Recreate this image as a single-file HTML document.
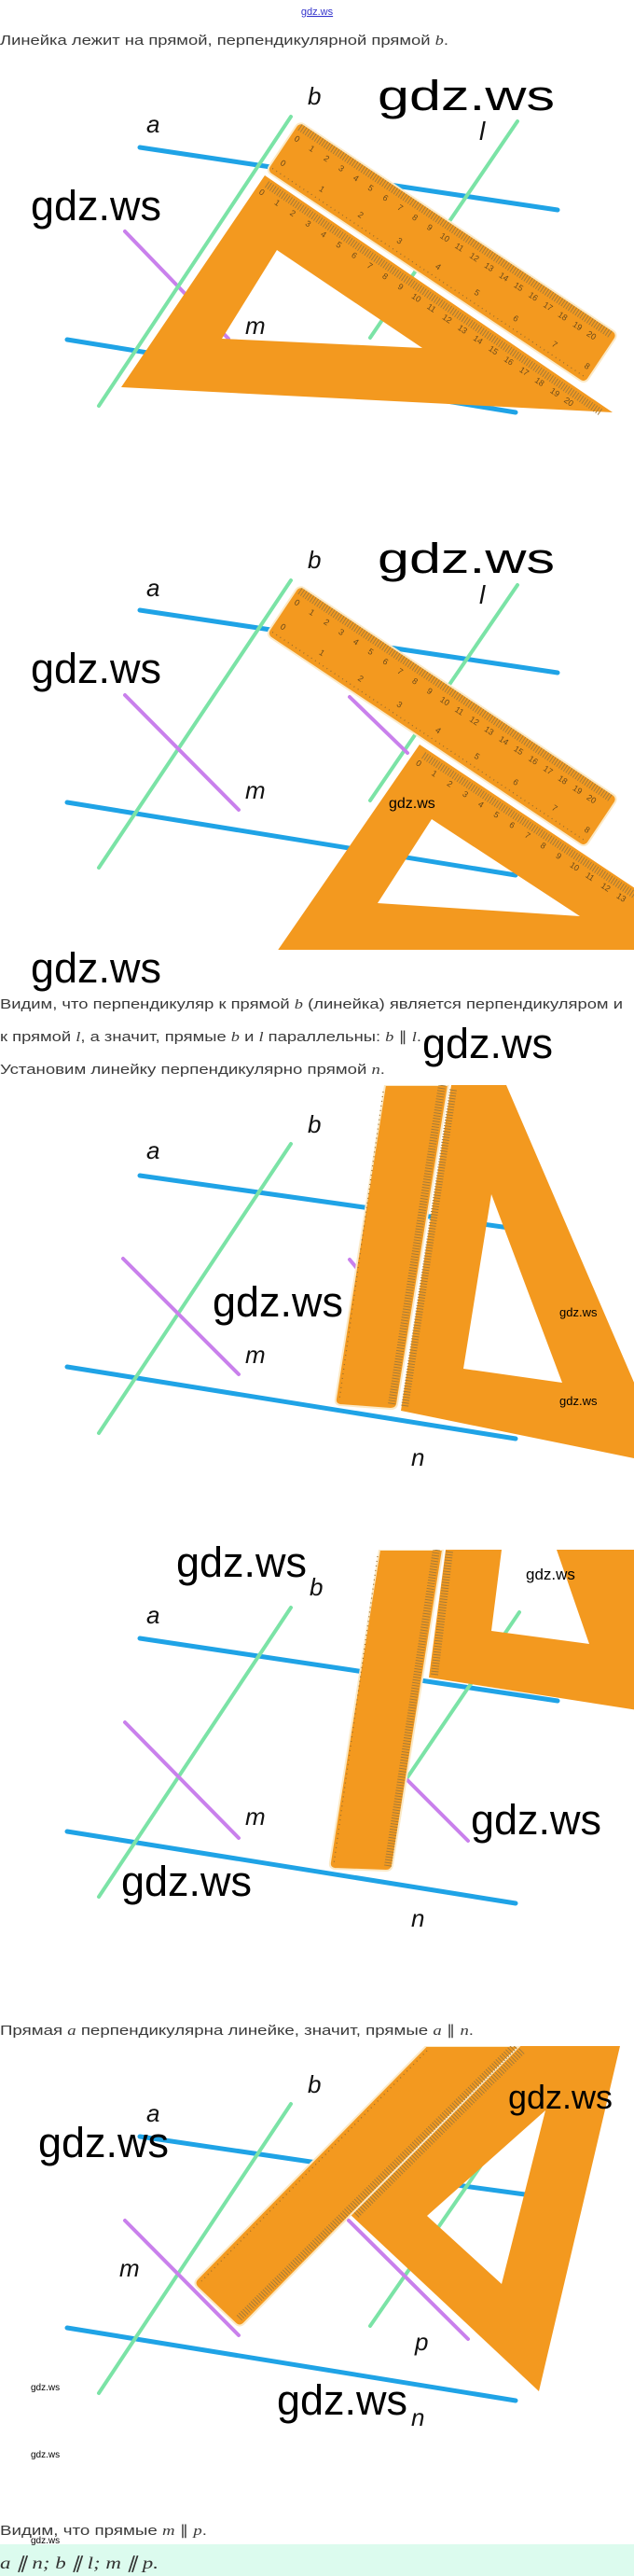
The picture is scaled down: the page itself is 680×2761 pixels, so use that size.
<!DOCTYPE html>
<html><head><meta charset="utf-8">
<style>
html,body{margin:0;padding:0;background:#fff;}
svg{display:block;}
.t{font-family:"Liberation Sans",sans-serif;font-size:15px;fill:#3a3a3a;}
.m{font-family:"Liberation Serif",serif;font-style:italic;}
.w{font-family:"Liberation Sans",sans-serif;fill:#000;}
.lb{font-family:"Liberation Sans",sans-serif;font-style:italic;font-size:26px;fill:#111;}
.ln{fill:none;stroke-linecap:round;}
.bl{stroke:#1fa3e6;stroke-width:5;}
.gr{stroke:#7be3a6;stroke-width:4;}
.pu{stroke:#c980ec;stroke-width:4;}
.or{fill:#f3991f;}
.tk{stroke:#a57b38;stroke-width:8;stroke-dasharray:1 2;fill:none;}
.tk2{stroke:#9a6e2c;stroke-width:1.3;fill:none;stroke-dasharray:1 4;}
.nm{font-family:"Liberation Sans",sans-serif;font-size:9px;fill:#6b4a1a;}
</style></head><body>
<svg width="680" height="2761" viewBox="0 0 680 2761" xmlns="http://www.w3.org/2000/svg">
<defs>
<clipPath id="c1"><rect x="0" y="80" width="680" height="410"/></clipPath>
<clipPath id="c2"><rect x="0" y="560" width="680" height="458"/></clipPath>
<clipPath id="c3"><rect x="0" y="1163" width="680" height="410"/></clipPath>
<clipPath id="c4"><rect x="0" y="1661" width="680" height="410"/></clipPath>
<clipPath id="c5"><rect x="0" y="2193" width="680" height="420"/></clipPath>
</defs>

<text x="340" y="16" text-anchor="middle" font-family="Liberation Sans,sans-serif" font-size="11" fill="#3333cc" text-decoration="underline">gdz.ws</text>
<text class="t" x="0" y="48" textLength="481" lengthAdjust="spacingAndGlyphs">Линейка лежит на прямой, перпендикулярной прямой <tspan class="m">b</tspan>.</text>

<!-- FIG 1 -->
<g clip-path="url(#c1)">
<line class="ln bl" x1="150" y1="158" x2="598" y2="225"/>
<line class="ln bl" x1="72" y1="364" x2="553" y2="442"/>
<line class="ln gr" x1="555" y1="130" x2="397" y2="362"/>
<line class="ln pu" x1="134" y1="248" x2="245" y2="363"/>
<path class="or" fill-rule="evenodd" d="M284,188 L657,442 L130,415 Z M297,268 L238,363 L453,373 Z"/>
<g transform="translate(284,190) rotate(34.3)">
<line class="tk" x1="6" y1="5" x2="440" y2="5"/>
<text class="nm" x="4" y="18">0</text><text class="nm" x="24" y="18">1</text><text class="nm" x="44" y="18">2</text><text class="nm" x="64" y="18">3</text><text class="nm" x="84" y="18">4</text><text class="nm" x="104" y="18">5</text><text class="nm" x="124" y="18">6</text><text class="nm" x="144" y="18">7</text><text class="nm" x="164" y="18">8</text><text class="nm" x="184" y="18">9</text><text class="nm" x="202" y="18">10</text><text class="nm" x="222" y="18">11</text><text class="nm" x="242" y="18">12</text><text class="nm" x="262" y="18">13</text><text class="nm" x="282" y="18">14</text><text class="nm" x="302" y="18">15</text><text class="nm" x="322" y="18">16</text><text class="nm" x="342" y="18">17</text><text class="nm" x="362" y="18">18</text><text class="nm" x="382" y="18">19</text><text class="nm" x="400" y="18">20</text>
</g>
<g transform="translate(321,130) rotate(33.7)">
<rect x="0" y="0" width="411" height="64" rx="6" class="or" stroke="#fbe9c6" stroke-width="2"/>
<line class="tk" x1="4" y1="5" x2="405" y2="5"/>
<line class="tk2" x1="4" y1="58" x2="405" y2="58"/>
<text class="nm" x="6" y="20">0</text><text class="nm" x="25" y="20">1</text><text class="nm" x="44" y="20">2</text><text class="nm" x="63" y="20">3</text><text class="nm" x="82" y="20">4</text><text class="nm" x="101" y="20">5</text><text class="nm" x="120" y="20">6</text><text class="nm" x="139" y="20">7</text><text class="nm" x="158" y="20">8</text><text class="nm" x="177" y="20">9</text><text class="nm" x="194" y="20">10</text><text class="nm" x="213" y="20">11</text><text class="nm" x="232" y="20">12</text><text class="nm" x="251" y="20">13</text><text class="nm" x="270" y="20">14</text><text class="nm" x="289" y="20">15</text><text class="nm" x="308" y="20">16</text><text class="nm" x="327" y="20">17</text><text class="nm" x="346" y="20">18</text><text class="nm" x="365" y="20">19</text><text class="nm" x="383" y="20">20</text>
<text class="nm" x="8" y="50">0</text><text class="nm" x="58" y="50">1</text><text class="nm" x="108" y="50">2</text><text class="nm" x="158" y="50">3</text><text class="nm" x="208" y="50">4</text><text class="nm" x="258" y="50">5</text><text class="nm" x="308" y="50">6</text><text class="nm" x="358" y="50">7</text><text class="nm" x="400" y="50">8</text>
</g>
<line class="ln gr" x1="312" y1="125" x2="106" y2="435"/>
</g>
<text class="lb" x="330" y="112">b</text>
<text class="lb" x="157" y="142">a</text>
<text class="lb" x="514" y="150" style="font-size:28px">l</text>
<text class="lb" x="263" y="358">m</text>
<text class="w" x="405" y="118" font-size="45" textLength="190" lengthAdjust="spacingAndGlyphs">gdz.ws</text>
<text class="w" x="33" y="236" font-size="45">gdz.ws</text>

<!-- FIG 2 -->
<g clip-path="url(#c2)">
<line class="ln bl" x1="150" y1="654" x2="598" y2="721"/>
<line class="ln bl" x1="72" y1="860" x2="553" y2="938"/>
<line class="ln gr" x1="312" y1="622" x2="106" y2="930"/>
<line class="ln gr" x1="555" y1="627" x2="397" y2="858"/>
<line class="ln pu" x1="134" y1="745" x2="256" y2="868"/>
<line class="ln pu" x1="375" y1="747" x2="437" y2="807"/>
<path class="or" fill-rule="evenodd" d="M450,798 L690,958 L690,1030 L290,1030 Z M463,878 L405,968 L622,982 Z"/>
<g transform="translate(452,802) rotate(33.5)">
<line class="tk" x1="6" y1="5" x2="300" y2="5"/>
<text class="nm" x="4" y="18">0</text><text class="nm" x="24" y="18">1</text><text class="nm" x="44" y="18">2</text><text class="nm" x="64" y="18">3</text><text class="nm" x="84" y="18">4</text><text class="nm" x="104" y="18">5</text><text class="nm" x="124" y="18">6</text><text class="nm" x="144" y="18">7</text><text class="nm" x="164" y="18">8</text><text class="nm" x="184" y="18">9</text><text class="nm" x="202" y="18">10</text><text class="nm" x="222" y="18">11</text><text class="nm" x="242" y="18">12</text><text class="nm" x="262" y="18">13</text>
</g>
<g transform="translate(321,627) rotate(33.7)">
<rect x="0" y="0" width="411" height="64" rx="6" class="or" stroke="#fbe9c6" stroke-width="2"/>
<line class="tk" x1="4" y1="5" x2="405" y2="5"/>
<line class="tk2" x1="4" y1="58" x2="405" y2="58"/>
<text class="nm" x="6" y="20">0</text><text class="nm" x="25" y="20">1</text><text class="nm" x="44" y="20">2</text><text class="nm" x="63" y="20">3</text><text class="nm" x="82" y="20">4</text><text class="nm" x="101" y="20">5</text><text class="nm" x="120" y="20">6</text><text class="nm" x="139" y="20">7</text><text class="nm" x="158" y="20">8</text><text class="nm" x="177" y="20">9</text><text class="nm" x="194" y="20">10</text><text class="nm" x="213" y="20">11</text><text class="nm" x="232" y="20">12</text><text class="nm" x="251" y="20">13</text><text class="nm" x="270" y="20">14</text><text class="nm" x="289" y="20">15</text><text class="nm" x="308" y="20">16</text><text class="nm" x="327" y="20">17</text><text class="nm" x="346" y="20">18</text><text class="nm" x="365" y="20">19</text><text class="nm" x="383" y="20">20</text>
<text class="nm" x="8" y="50">0</text><text class="nm" x="58" y="50">1</text><text class="nm" x="108" y="50">2</text><text class="nm" x="158" y="50">3</text><text class="nm" x="208" y="50">4</text><text class="nm" x="258" y="50">5</text><text class="nm" x="308" y="50">6</text><text class="nm" x="358" y="50">7</text><text class="nm" x="400" y="50">8</text>
</g>
</g>
<text class="lb" x="330" y="609">b</text>
<text class="lb" x="157" y="639">a</text>
<text class="lb" x="514" y="647" style="font-size:28px">l</text>
<text class="lb" x="263" y="856">m</text>
<text class="w" x="405" y="614" font-size="45" textLength="190" lengthAdjust="spacingAndGlyphs">gdz.ws</text>
<text class="w" x="33" y="732" font-size="45">gdz.ws</text>
<text class="w" x="417" y="866" font-size="16">gdz.ws</text>

<text class="w" x="33" y="1053" font-size="45">gdz.ws</text>
<text class="t" x="0" y="1081" textLength="668" lengthAdjust="spacingAndGlyphs">Видим, что перпендикуляр к прямой <tspan class="m">b</tspan> (линейка) является перпендикуляром и</text>
<text class="t" x="0" y="1116" textLength="452" lengthAdjust="spacingAndGlyphs">к прямой <tspan class="m">l</tspan>, а значит, прямые <tspan class="m">b</tspan> и <tspan class="m">l</tspan> параллельны: <tspan class="m">b</tspan> ∥ <tspan class="m">l</tspan>.</text>
<text class="t" x="0" y="1151" textLength="413" lengthAdjust="spacingAndGlyphs">Установим линейку перпендикулярно прямой <tspan class="m">n</tspan>.</text>
<text class="w" x="453" y="1134" font-size="45">gdz.ws</text>

<!-- FIG 3 -->
<g clip-path="url(#c3)">
<line class="ln bl" x1="150" y1="1260" x2="560" y2="1318"/>
<line class="ln bl" x1="72" y1="1465" x2="553" y2="1542"/>
<line class="ln gr" x1="312" y1="1226" x2="106" y2="1536"/>
<line class="ln pu" x1="132" y1="1349" x2="256" y2="1473"/>
<line class="ln pu" x1="375" y1="1350" x2="385" y2="1362"/>
<path class="or" fill-rule="evenodd" d="M484,1163 L543,1163 L690,1505 L690,1565 L430,1512 Z M527,1280 L497,1467 L603,1482 Z"/>
<line class="tk" x1="486" y1="1168" x2="434" y2="1508"/>
<path class="or" d="M413,1163 L481,1163 L426,1505 Q425,1510 419,1510 L365,1506 Q359,1505 360,1499 Z" stroke="#fbe9c6" stroke-width="2"/>
<line class="tk" x1="474" y1="1163" x2="420" y2="1505"/>
<line class="tk2" x1="411" y1="1170" x2="364" y2="1500"/>
</g>
<text class="lb" x="330" y="1214">b</text>
<text class="lb" x="157" y="1242">a</text>
<text class="lb" x="263" y="1461">m</text>
<text class="lb" x="441" y="1571">n</text>
<text class="w" x="228" y="1411" font-size="45">gdz.ws</text>
<text class="w" x="600" y="1411" font-size="13">gdz.ws</text>
<text class="w" x="600" y="1506" font-size="13">gdz.ws</text>

<!-- FIG 4 -->
<g clip-path="url(#c4)">
<line class="ln bl" x1="150" y1="1756" x2="598" y2="1823"/>
<line class="ln bl" x1="72" y1="1963" x2="553" y2="2040"/>
<line class="ln gr" x1="312" y1="1723" x2="106" y2="2033"/>
<line class="ln gr" x1="557" y1="1728" x2="437" y2="1905"/>
<line class="ln pu" x1="134" y1="1846" x2="256" y2="1970"/>
<line class="ln pu" x1="437" y1="1908" x2="502" y2="1973"/>
<path class="or" fill-rule="evenodd" d="M478,1661 L538,1661 L527,1748 L632,1762 L597,1661 L690,1661 L690,1834 L460,1798 Z"/>
<line class="tk" x1="482" y1="1663" x2="466" y2="1795"/>
<path class="or" d="M407,1661 L475,1661 L421,1999 Q420,2005 414,2005 L359,2003 Q353,2002 354,1996 Z" stroke="#fbe9c6" stroke-width="2"/>
<line class="tk" x1="468" y1="1661" x2="416" y2="2000"/>
<line class="tk2" x1="405" y1="1668" x2="358" y2="1998"/>
</g>
<text class="w" x="189" y="1690" font-size="45">gdz.ws</text>
<text class="lb" x="332" y="1710">b</text>
<text class="lb" x="157" y="1740">a</text>
<text class="lb" x="263" y="1956">m</text>
<text class="lb" x="441" y="2065">n</text>
<text class="w" x="505" y="1966" font-size="45">gdz.ws</text>
<text class="w" x="130" y="2032" font-size="45">gdz.ws</text>
<text class="w" x="564" y="1693" font-size="17">gdz.ws</text>

<text class="t" x="0" y="2181" textLength="508" lengthAdjust="spacingAndGlyphs">Прямая <tspan class="m">a</tspan> перпендикулярна линейке, значит, прямые <tspan class="m">a</tspan> ∥ <tspan class="m">n</tspan>.</text>

<!-- FIG 5 -->
<g clip-path="url(#c5)">
<line class="ln bl" x1="150" y1="2290" x2="340" y2="2318"/>
<line class="ln bl" x1="490" y1="2342" x2="563" y2="2352"/>
<line class="ln bl" x1="72" y1="2495" x2="553" y2="2573"/>
<line class="ln gr" x1="312" y1="2255" x2="106" y2="2565"/>
<line class="ln gr" x1="529" y1="2302" x2="397" y2="2493"/>
<path class="or" fill-rule="evenodd" d="M375,2373 L557,2193 L665,2193 L578,2563 Z M585,2262 L458,2375 L538,2448 Z"/>
<line class="tk" x1="382" y1="2374" x2="560" y2="2198"/>
<path class="or" d="M457,2193 L557,2193 L377,2373 L262,2490 Q257,2495 252,2490 L212,2452 Q207,2447 212,2442 Z" stroke="#fbe9c6" stroke-width="2"/>
<line class="tk" x1="552" y1="2193" x2="256" y2="2485"/>
<line class="tk2" x1="458" y1="2198" x2="216" y2="2445"/>
<line class="ln pu" x1="134" y1="2380" x2="256" y2="2503"/>
<line class="ln pu" x1="374" y1="2380" x2="502" y2="2507"/>
</g>
<text class="lb" x="330" y="2243">b</text>
<text class="lb" x="157" y="2274">a</text>
<text class="lb" x="128" y="2440">m</text>
<text class="lb" x="445" y="2519">p</text>
<text class="w" x="41" y="2312" font-size="45">gdz.ws</text>
<text class="w" x="545" y="2260" font-size="36">gdz.ws</text>
<text class="w" x="297" y="2588" font-size="45">gdz.ws</text>
<text class="lb" x="441" y="2600">n</text>
<text class="w" x="33" y="2562" font-size="10">gdz.ws</text>
<text class="w" x="33" y="2634" font-size="10">gdz.ws</text>

<text class="t" x="0" y="2717" textLength="222" lengthAdjust="spacingAndGlyphs">Видим, что прямые <tspan class="m">m</tspan> ∥ <tspan class="m">p</tspan>.</text>
<rect x="0" y="2727" width="680" height="34" fill="#dcfbee"/>
<text x="33" y="2726" font-family="Liberation Sans,sans-serif" font-size="10" fill="#000">gdz.ws</text>
<text x="0" y="2753" font-family="Liberation Serif,serif" font-style="italic" font-size="18" fill="#333" textLength="170" lengthAdjust="spacingAndGlyphs">a ∥ n; b ∥ l; m ∥ p.</text>
</svg>
</body></html>
